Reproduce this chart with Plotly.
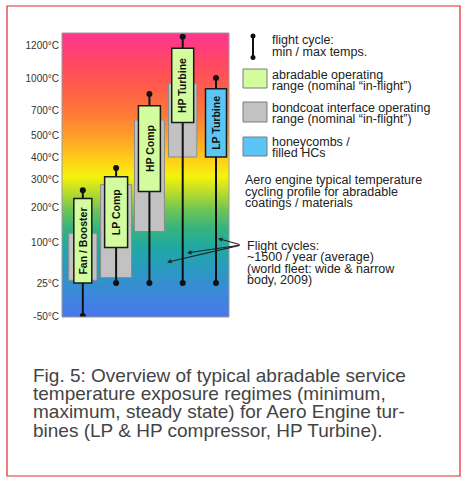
import numpy as np
import plotly.graph_objects as go

# ---------------- data ----------------
components = ["Fan / Booster", "LP Comp", "HP Comp", "HP Turbine", "LP Turbine"]
cycle_min = [-50, 25, 25, 25, 25]
cycle_max = [260, 350, 850, 1250, 1000]
abradable_low = [25, 90, 255, 600, None]
abradable_high = [230, 310, 740, 1180, None]
bondcoat_low = [30, 35, 130, 400, None]
bondcoat_high = [125, 280, 620, 950, None]
honeycomb_low = [None, None, None, None, 400]
honeycomb_high = [None, None, None, None, 900]

tick_temps = [-50, 25, 100, 200, 300, 400, 500, 700, 1000, 1200]
tick_labels = [f"{t}°C" for t in tick_temps]

# arrows "Flight cycles" point at (component index, temperature)
arrow_targets = [(4.06, 110), (3.13, 80), (2.53, 63)]

# ---------------- layout / style ----------------
# axis position of each tick on the hand-drawn, non-linear temperature scale
tick_pos = [1, 34, 75, 110, 138, 160, 182, 207, 239, 272]
Y_MAX = 284
green_w = [0.54, 0.69, 0.66, 0.66, 0.63]
grey_w = [0.85, 0.93, 0.9, 0.85, 0.0]
whisker_w = 0.06

W, H = 464, 477
L, R, T, B = 62, 229, 33, 317  # plot area in pixels


def ypos(t):
    """Temperature -> axis position on the figure's piecewise scale."""
    if t > tick_temps[-1]:
        slope = (tick_pos[-1] - tick_pos[-2]) / (tick_temps[-1] - tick_temps[-2])
        return tick_pos[-1] + (t - tick_temps[-1]) * slope
    return float(np.interp(t, tick_temps, tick_pos))


def px(x):
    return (x - L) / (R - L)


def py(y):
    return (B - y) / (B - T)


grad_stops = [
    (317, "#4b76ef"), (295, "#3d87dc"), (270, "#2b99c2"), (248, "#1fa8a6"),
    (228, "#36b37f"), (210, "#6cc457"), (192, "#b8dc2c"), (176, "#f5f20c"),
    (160, "#ffd018"), (140, "#ffa726"), (115, "#ff7c36"), (88, "#ff5d48"),
    (60, "#ff4667"), (33, "#ff3590"),
]
colorscale = [[(B - p) / (B - T), c] for p, c in grad_stops]

FONT = "Liberation Sans, Arial, Helvetica, sans-serif"
fig = go.Figure()

# background gradient
ys = np.arange(0, Y_MAX + 1)
fig.add_trace(go.Heatmap(
    x=[-1.0, 5.0], y=ys, z=[[v, v] for v in ys], zmin=0, zmax=Y_MAX,
    colorscale=colorscale, showscale=False, zsmooth="best", hoverinfo="skip"))

# bondcoat (grey) boxes
for i, (lo, hi) in enumerate(zip(bondcoat_low, bondcoat_high)):
    if lo is None:
        continue
    fig.add_trace(go.Bar(
        x=[i], base=[ypos(lo)], y=[ypos(hi) - ypos(lo)], width=[grey_w[i]],
        marker=dict(color="#c2c2c2", line=dict(color="#8a8a8a", width=1)),
        hoverinfo="skip"))

# flight cycle whisker lines (thin bars so the boxes can sit on top)
fig.add_trace(go.Bar(
    x=list(range(len(components))),
    base=[ypos(v) for v in cycle_min],
    y=[ypos(hi) - ypos(lo) for lo, hi in zip(cycle_min, cycle_max)],
    width=whisker_w, marker=dict(color="#111111", line=dict(width=0)),
    hoverinfo="skip"))

# abradable (green) boxes
for i, (lo, hi) in enumerate(zip(abradable_low, abradable_high)):
    if lo is None:
        continue
    fig.add_trace(go.Bar(
        x=[i], base=[ypos(lo)], y=[ypos(hi) - ypos(lo)], width=[green_w[i]],
        marker=dict(color="#d2fc9e", line=dict(color="#1a1a1a", width=1.5)),
        hoverinfo="skip"))

# honeycomb (blue) boxes
for i, (lo, hi) in enumerate(zip(honeycomb_low, honeycomb_high)):
    if lo is None:
        continue
    fig.add_trace(go.Bar(
        x=[i], base=[ypos(lo)], y=[ypos(hi) - ypos(lo)], width=[green_w[i]],
        marker=dict(color="#5bc6f6", line=dict(color="#1a1a1a", width=1.5)),
        hoverinfo="skip"))

# whisker end dots (min / max)
xs = list(range(len(components)))
fig.add_trace(go.Scatter(
    x=xs + xs, y=[ypos(v) for v in cycle_min] + [ypos(v) for v in cycle_max],
    mode="markers", marker=dict(color="#111111", size=6), hoverinfo="skip"))

annotations = []
# component labels
for i, name in enumerate(components):
    lo = abradable_low[i] if abradable_low[i] is not None else honeycomb_low[i]
    hi = abradable_high[i] if abradable_high[i] is not None else honeycomb_high[i]
    annotations.append(dict(
        x=i, y=(ypos(lo) + ypos(hi)) / 2, xref="x", yref="y", text=f"<b>{name}</b>",
        textangle=-90, showarrow=False, borderpad=0,
        font=dict(family=FONT, size=10.5, color="#111")))

# arrows
tail = (241, 245)
for xi, t in arrow_targets:
    hx = L + (xi + 0.625) * (R - L) / 5.015
    hy = B - ypos(t) * (B - T) / Y_MAX
    annotations.append(dict(
        x=xi, y=ypos(t), xref="x", yref="y", text="", showarrow=True,
        ax=tail[0] - hx, ay=tail[1] - hy, arrowhead=2, arrowsize=0.8,
        arrowwidth=1.1, arrowcolor="#222"))


def txt(x, y, s, size=12.5, color="#222"):
    annotations.append(dict(
        x=px(x), y=py(y), xref="paper", yref="paper", text=s, showarrow=False,
        xanchor="left", yanchor="middle", font=dict(family=FONT, size=size, color=color)))


txt(270, 40, "flight cycle:")
txt(270, 52, "min / max temps.")
txt(270, 75, "abradable operating")
txt(270, 86, "range (nominal “in-flight”)")
txt(270, 108, "bondcoat interface operating")
txt(270, 119, "range (nominal “in-flight”)")
txt(270, 142, "honeycombs /")
txt(270, 153, "filled HCs")
txt(243, 180, "Aero engine typical temperature")
txt(243, 192, "cycling profile for abradable")
txt(243, 203, "coatings / materials")
txt(245, 246, "Flight cycles:")
txt(245, 257, "~1500 / year (average)")
txt(245, 269, "(world fleet: wide & narrow")
txt(245, 280, "body, 2009)")

cap_color = "#444444"
txt(31, 375, "Fig. 5: Overview of typical abradable service", 19, cap_color)
txt(31, 393, "temperature exposure regimes (minimum,", 19, cap_color)
txt(31, 412, "maximum, steady state) for Aero Engine tur-", 19, cap_color)
txt(31, 430, "bines (LP & HP compressor, HP Turbine).", 19, cap_color)

shapes = [
    # outer red frame
    dict(type="rect", xref="paper", yref="paper", x0=px(7), x1=px(460), y0=py(476), y1=py(6),
         line=dict(color="#e3262c", width=1.2)),
    # plot frame
    dict(type="rect", xref="paper", yref="paper", x0=0, x1=1, y0=0, y1=1,
         line=dict(color="#9a9a9a", width=1)),
    # legend: whisker icon
    dict(type="line", xref="paper", yref="paper", x0=px(253), x1=px(253), y0=py(36), y1=py(57),
         line=dict(color="#111", width=2)),
    dict(type="circle", xref="paper", yref="paper", x0=px(250.5), x1=px(255.5), y0=py(33.5), y1=py(38.5),
         fillcolor="#111", line=dict(width=0)),
    dict(type="circle", xref="paper", yref="paper", x0=px(250.5), x1=px(255.5), y0=py(55), y1=py(60),
         fillcolor="#111", line=dict(width=0)),
    # legend squares
    dict(type="rect", xref="paper", yref="paper", x0=px(243), x1=px(267), y0=py(88), y1=py(69),
         fillcolor="#d2fc9e", line=dict(color="#7a7a7a", width=1)),
    dict(type="rect", xref="paper", yref="paper", x0=px(243), x1=px(267), y0=py(122), y1=py(102),
         fillcolor="#c2c2c2", line=dict(color="#7a7a7a", width=1)),
    dict(type="rect", xref="paper", yref="paper", x0=px(243), x1=px(267), y0=py(156), y1=py(137),
         fillcolor="#5bc6f6", line=dict(color="#7a7a7a", width=1)),
]

fig.update_layout(
    width=W, height=H,
    margin=dict(l=L, r=W - R, t=T, b=H - B, pad=0),
    paper_bgcolor="white", plot_bgcolor="white",
    showlegend=False, barmode="overlay",
    xaxis=dict(range=[-0.625, 4.39], visible=False, fixedrange=True),
    yaxis=dict(range=[0, Y_MAX], tickvals=tick_pos, ticktext=tick_labels,
               showgrid=False, zeroline=False, ticks="", showline=False,
               tickfont=dict(family=FONT, size=10, color="#333"),
               ticklabelstandoff=2, fixedrange=True),
    annotations=annotations, shapes=shapes,
)

fig.write_html("out.html", config={"displayModeBar": False},
               post_script="document.body.style.margin='0';document.body.style.overflow='hidden';")
